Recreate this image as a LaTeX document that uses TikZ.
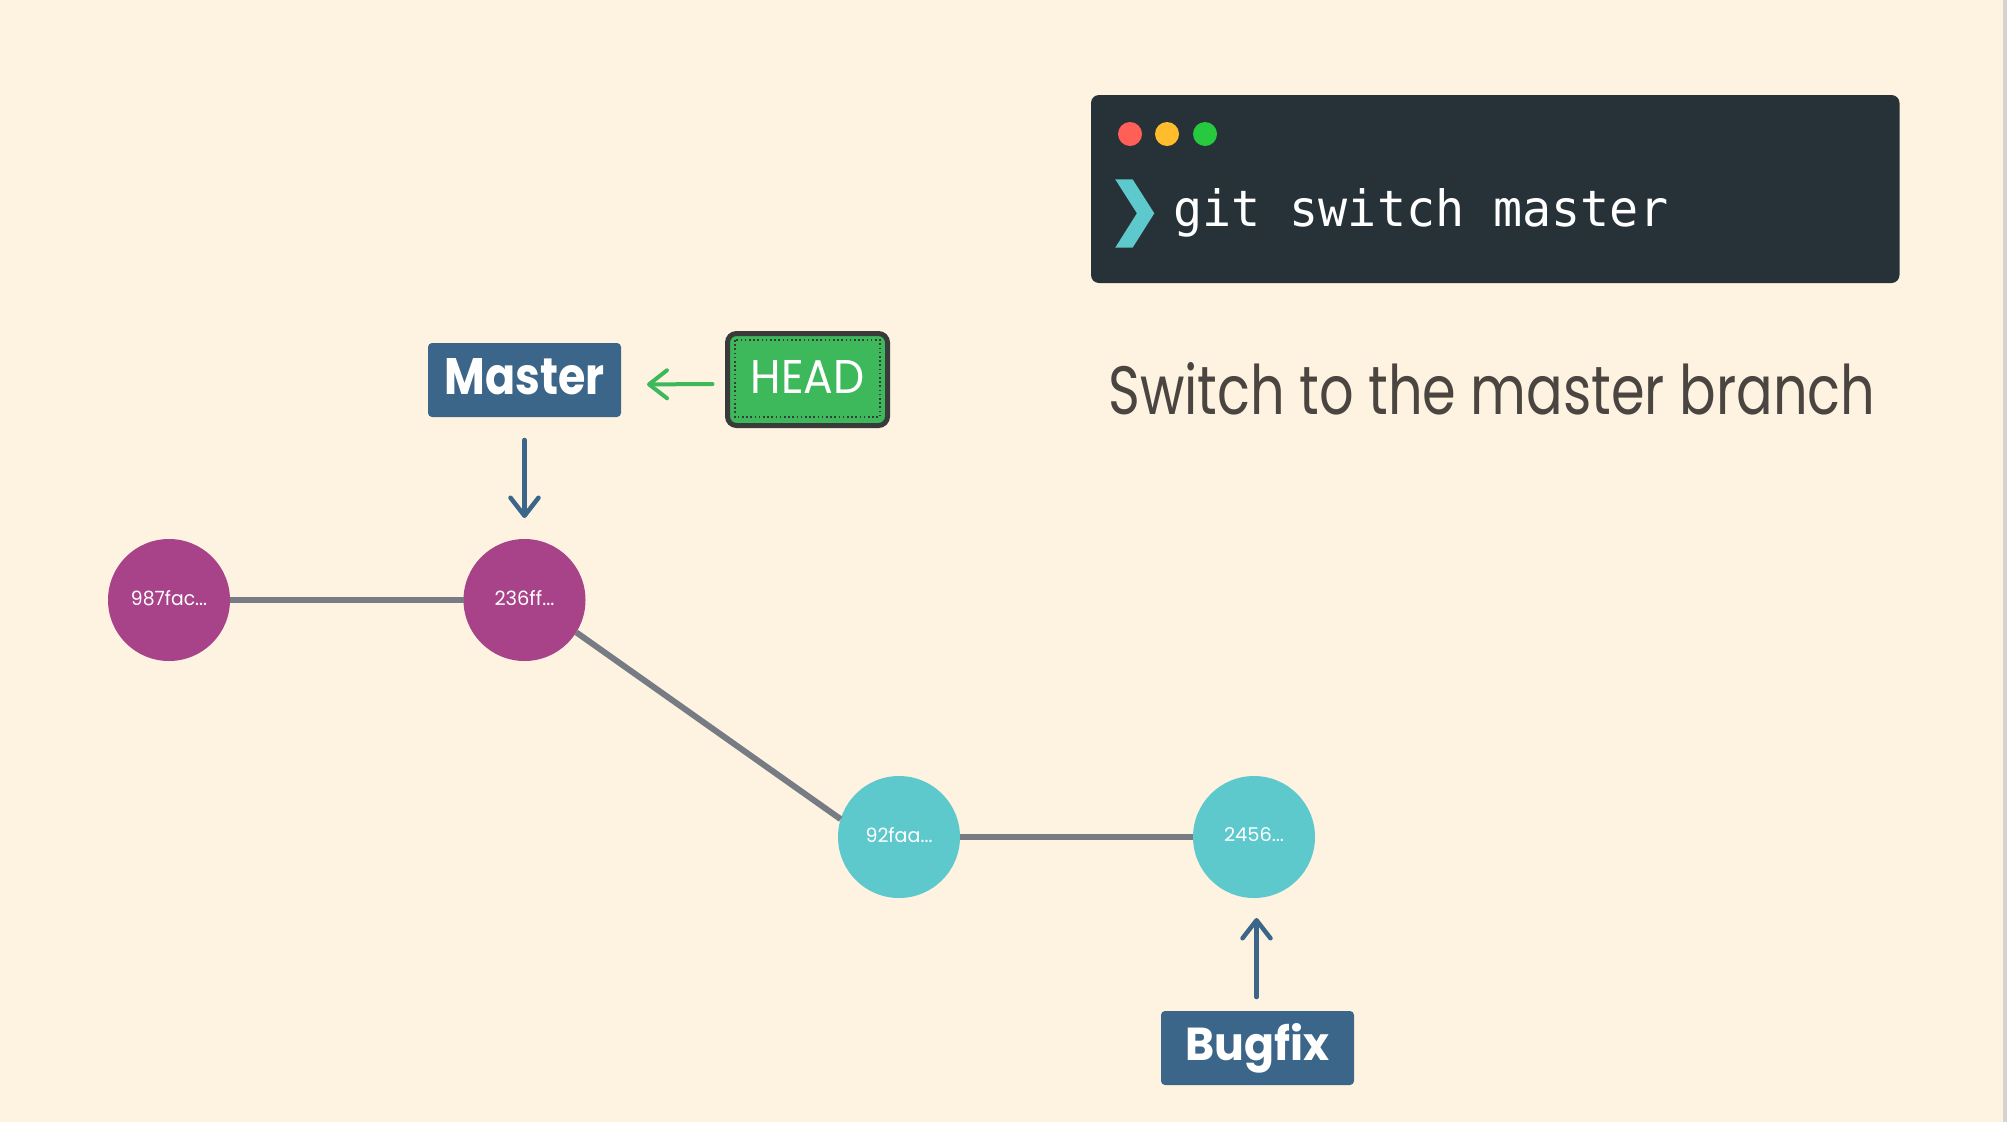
\documentclass[tikz,border=0pt]{standalone}
\usepackage{fontspec}
\usepackage{graphicx}
\usetikzlibrary{arrows.meta}
\newfontfamily\geo{Poppins}
\newfontfamily\monofam{DejaVu Sans Mono}
\definecolor{bg}{HTML}{FEF3E1}
\definecolor{edgegray}{HTML}{D6D3CE}
\definecolor{termbg}{HTML}{263238}
\definecolor{dotred}{HTML}{FF5F56}
\definecolor{dotyellow}{HTML}{FFBD2E}
\definecolor{dotgreen}{HTML}{27C93F}
\definecolor{chev}{HTML}{5EC9CC}
\definecolor{captxt}{HTML}{4A4541}
\definecolor{branchblue}{HTML}{3B6689}
\definecolor{headgreen}{HTML}{3DB95C}
\definecolor{headborder}{HTML}{3A3A3A}
\definecolor{magenta}{HTML}{A8438A}
\definecolor{cyanc}{HTML}{5EC9CC}
\definecolor{edgeline}{HTML}{777B84}
\newcommand{\fitbox}[4]{\raisebox{#4pt}{\resizebox{#1pt}{#2pt}{#3}}}
\begin{document}
\begin{tikzpicture}[x=1pt,y=-1pt,
  branchbox/.style={fill=branchblue, rounded corners=4pt, inner sep=0pt, outer sep=0pt,
    minimum width=193pt, minimum height=74pt, text=white},
  headbox/.style={fill=headgreen, draw=headborder, line width=5pt, rounded corners=9pt,
    inner sep=0pt, outer sep=0pt, minimum width=160pt, minimum height=92pt, text=white},
  commit/.style={circle, inner sep=0pt, outer sep=0pt, minimum size=122pt, text=white},
  mcommit/.style={commit, fill=magenta},
  ccommit/.style={commit, fill=cyanc},
  tdot/.style={circle, inner sep=0pt, minimum size=24pt},
  histline/.style={draw=edgeline, line width=6pt},
  ptr/.style={line width=4.5pt, line cap=round,
    -{Straight Barb[length=18pt, width=28pt, round]}},
]
\useasboundingbox (0,0) rectangle (2007,1122);
\fill[bg] (0,0) rectangle (2007,1122);
\fill[edgegray] (2003,0) rectangle (2007,1122);

% terminal
\node[fill=termbg, rounded corners=8pt, inner sep=0pt, minimum width=808.5pt, minimum height=188pt] (term) at (1495.25,189) {};
\node[tdot, fill=dotred] (dr) at (1130,134) {};
\node[tdot, fill=dotyellow] (dy) at (1167,134) {};
\node[tdot, fill=dotgreen] (dg) at (1205,134) {};
\fill[chev] (1115.2,179.3) -- (1132.6,179.3) -- (1154.3,213.3) -- (1132.6,247.7) -- (1115.2,247.7) -- (1136.9,213.3) -- cycle;
\node[anchor=base west, inner sep=0pt, text=white] (cmd) at (1173,226) {\resizebox{495pt}{38pt}{\monofam git switch master}};

% caption
\node[anchor=base west, inner sep=0pt, text=captxt] (cap) at (1108,414) {\resizebox{767pt}{52pt}{\geo Switch to the master branch}};

% commits
\node[mcommit] (c1) at (169,600) {\fitbox{76}{15}{\geo 987fac...}{5}};
\node[mcommit] (c2) at (524.5,600) {\fitbox{60}{15}{\geo 236ff...}{5}};
\node[ccommit] (c3) at (899,837) {\fitbox{67}{15}{\geo 92faa...}{4}};
\node[ccommit] (c4) at (1254,837) {\fitbox{60}{14}{\geo 2456...}{6}};

% history
\draw[histline] (c1) -- (c2);
\draw[histline] (c2.-32) -- (c3.163);
\draw[histline] (c3) -- (c4);

% branch labels
\node[branchbox] (master) at (524.5,380) {\fitbox{160}{36}{\geo\bfseries Master}{8}};
\node[headbox] (head) at (807.5,379.5) {\fitbox{114}{33}{\geo HEAD}{5}};
\draw[headborder, line width=1.6pt, dash pattern=on 1.6pt off 2.6pt]
  ([shift={(7.5pt,-6.5pt)}]head.north west) rectangle ([shift={(-7.5pt,8.5pt)}]head.south east);
\node[branchbox] (bugfix) at (1257.5,1048) {\fitbox{144}{37}{\geo\bfseries Bugfix}{0}};

% pointers
\draw[ptr, draw=headgreen, line width=4pt, shorten <=15pt, shorten >=26pt]
  ([yshift=-4.5pt]head.west) -- ([yshift=-4.5pt]master.east);
\draw[ptr, draw=branchblue, shorten <=23pt, shorten >=21pt] (master.south) -- (master.south |- c2.north);
\draw[ptr, draw=branchblue, shorten <=14pt, shorten >=20pt] ([xshift=-1pt]bugfix.north) -- ([xshift=-1pt]bugfix.north |- c4.south);
\end{tikzpicture}
\end{document}
